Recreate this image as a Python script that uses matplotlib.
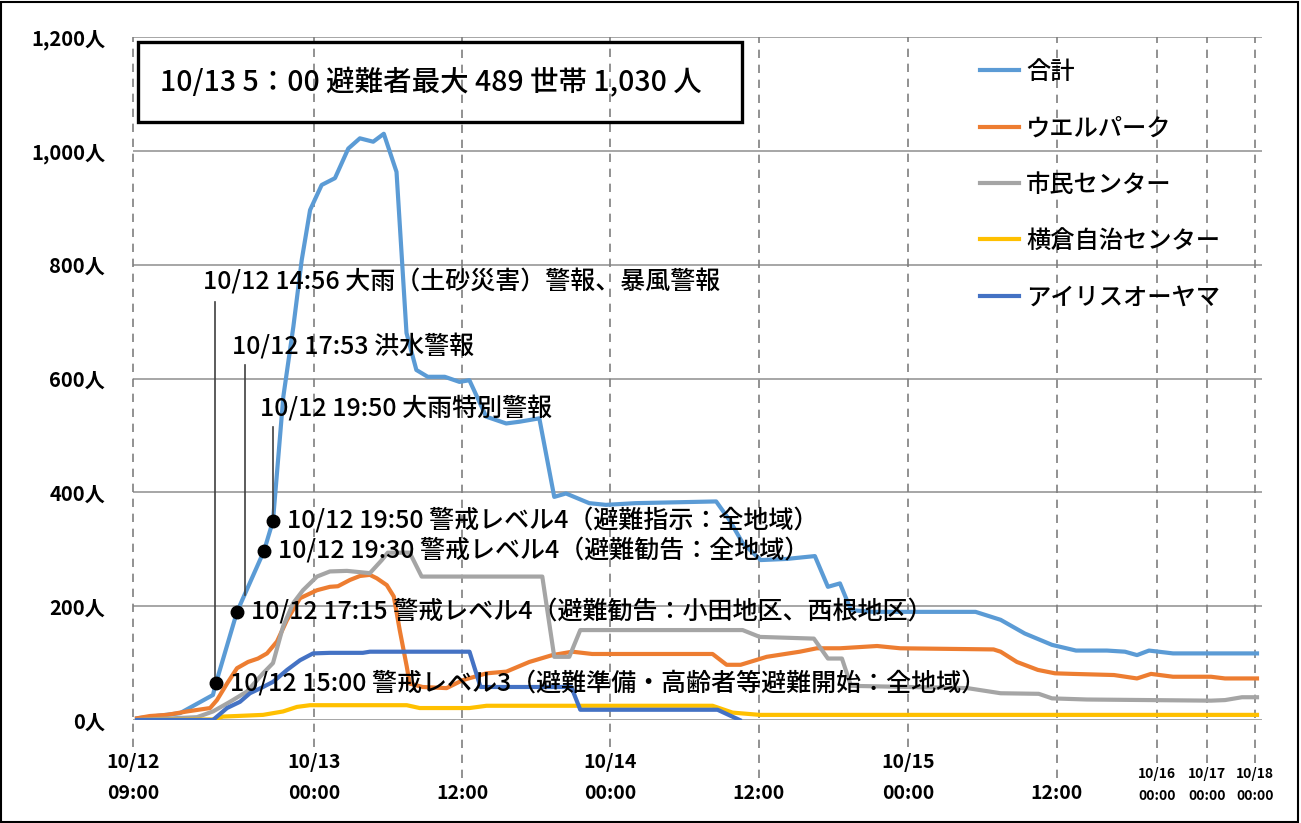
import numpy as np
import matplotlib
matplotlib.use('Agg')
import matplotlib.pyplot as plt
from matplotlib.patches import Rectangle
from matplotlib.transforms import ScaledTranslation

plt.rcParams['font.family'] = ['Noto Sans CJK JP', 'DejaVu Sans']

# x values are hours since 10/12 09:00
total_t = [0.3, 3.4, 5.78, 6.0, 8.25, 10.5, 10.83, 11.88, 12.9, 13.75, 14.6, 15.62, 16.7,
           17.78, 18.72, 19.8, 20.66, 21.69, 22.5, 23.3, 24.22, 25.6, 26.8, 27.6, 28.96,
           30.58, 31.65, 33.27, 34.48, 35.43, 37.31, 38.66, 41.09, 47.55, 48.63, 49.68,
           51.14, 53.24, 55.5, 56.55, 57.52, 58.41, 60.19, 68.44, 70.46, 72.4, 74.6, 77.28,
           81.0, 83.16, 84.6, 86.04, 94.68, 136.0]
total_v = [3, 12, 44, 65, 190, 297, 350, 568, 691, 808, 896, 940, 952,
           1004, 1022, 1016, 1030, 963, 680, 615, 603, 603, 594, 597, 533,
           521, 524, 530, 392, 398, 381, 378, 381, 384, 351, 311,
           281, 283, 288, 234, 240, 193, 190, 190, 176, 152, 132, 122,
           122, 120, 114, 122, 117, 117]

well_t = [0.29, 1.23, 2.46, 3.9, 5.57, 6.1, 7.18, 8.25, 9.17, 10.0, 10.61, 11.24, 12.26,
          13.58, 15.24, 16.29, 16.94, 17.91, 18.72, 19.53, 20.09, 20.9, 21.47, 21.95, 22.52,
          22.76, 23.81, 25.75, 27.05, 28.99, 30.6, 32.46, 34.32, 35.94, 37.55, 47.26, 48.39,
          49.52, 51.62, 54.29, 55.66, 57.52, 60.51, 62.37, 69.89, 70.46, 71.77, 73.46, 74.84,
          76.92, 81.84, 84.6, 86.28, 94.68, 113, 120, 136.0]
well_v = [3, 7, 9, 15, 21, 35, 64, 91, 102, 108, 117, 138, 176,
          214, 228, 234, 235, 246, 253, 255, 249, 237, 217, 158, 94,
          64, 58, 56, 70, 82, 85, 102, 114, 120, 116, 116, 97,
          97, 111, 120, 126, 126, 130, 126, 124, 120, 102, 88, 82,
          81, 79, 73, 81, 76, 76, 73, 73]

civic_t = [0.29, 4.63, 5.78, 7.5, 9.08, 10.42, 10.83, 11.85, 12.87, 13.88, 15.24, 16.29,
           17.67, 19.53, 20.5, 20.98, 22.76, 23.73, 33.51, 34.48, 35.7, 36.59, 49.68, 51.06,
           55.42, 56.55, 57.68, 58.41, 67.79, 70.46, 73.53, 74.6, 78.6, 113, 120, 128.5, 136.0]
civic_v = [0, 5, 15, 32, 50, 82, 100, 164, 205, 228, 252, 261,
           262, 258, 281, 294, 294, 252, 252, 111, 111, 158, 158, 146,
           143, 108, 108, 60, 56, 47, 46, 38, 36, 34, 35, 40, 40]

yoko_t = [0.29, 5.78, 6.75, 10.42, 11.85, 13.27, 14.59, 22.52, 23.57, 27.61, 28.99,
          47.26, 48.87, 51.06, 136.0]
yoko_v = [0, 1, 6, 9, 15, 23, 26, 26, 21, 21, 25, 25, 13, 9, 9]

iris_t = [0.29, 5.78, 7.18, 8.5, 9.33, 10.42, 10.83, 12.26, 13.58, 14.9, 16.29, 18.96,
          19.53, 27.61, 28.5, 35.86, 36.59, 47.66, 49.44]
iris_v = [0, 0, 21, 32, 47, 58, 67, 88, 105, 117, 118, 118,
          120, 120, 58, 58, 18, 18, 0]

series_names = ['合計', 'ウエルパーク', '市民センター', '横倉自治センター', 'アイリスオーヤマ']
series_colors = ['#5B9BD5', '#ED7D31', '#A5A5A5', '#FFC000', '#4472C4']

# alert level announcements (dots on the total curve)
alert_t = [6.0, 8.25, 10.5, 10.83]
alert_v = [65, 190, 297, 350]
alert_text = ['10/12 15:00 警戒レベル3（避難準備・高齢者等避難開始：全地域）',
              '10/12 17:15 警戒レベル4（避難勧告：小田地区、西根地区）',
              '10/12 19:30 警戒レベル4（避難勧告：全地域）',
              '10/12 19:50 警戒レベル4（避難指示：全地域）']

# weather warnings (leader lines)
warn_t = [5.93, 8.88, 10.83]
warn_v = [65, 220, 350]
warn_top = [735, 624, 515]
warn_label_y = [768, 654, 545]
warn_text = ['10/12 14:56 大雨（土砂災害）警報、暴風警報',
             '10/12 17:53 洪水警報',
             '10/12 19:50 大雨特別警報']

tick_t = [0, 15, 27, 39, 51, 63, 75, 87, 111, 135]
tick_lbl = ['10/12\n09:00', '10/13\n00:00', '\n12:00', '10/14\n00:00', '\n12:00',
            '10/15\n00:00', '\n12:00', '10/16\n00:00', '10/17\n00:00', '10/18\n00:00']

# category-like time axis of the original: piecewise mapping hours -> axis position
knot_h = [0, 6, 8.25, 10.5, 10.83, 15, 27, 39, 51, 63, 75, 87, 111, 135, 140]
knot_p = [0, 83, 104, 131, 140, 181, 329, 477, 626, 775, 924, 1024, 1074, 1122, 1132]

def fwd(x):
    return np.interp(x, knot_h, knot_p)

def inv(p):
    return np.interp(p, knot_p, knot_h)


fig = plt.figure(figsize=(13.01, 8.23), dpi=100)
ax = fig.add_axes([133/1301, 1-720/823, 1129/1301, 683/823])
ax.set_xscale('function', functions=(fwd, inv))
ax.set_xlim(0, 138.5)
ax.set_ylim(0, 1200)

for s in ax.spines.values():
    s.set_visible(False)

ax.set_yticks(range(0, 1201, 200))
ax.set_yticklabels([f'{v:,}人' for v in range(0, 1201, 200)], fontsize=14.5, fontweight='bold')
ax.yaxis.grid(True, color='#A6A6A6', lw=1.4)
ax.set_axisbelow(True)
ax.tick_params(axis='y', length=0, pad=20)

ax.set_xticks(tick_t)
ax.set_xticklabels(tick_lbl, fontsize=14, fontweight='bold')
ax.tick_params(axis='x', length=0, pad=24)
for i, lab in enumerate(ax.get_xticklabels()):
    lab.set_linespacing(1.75)
    if i >= 7:
        lab.set_fontsize(10)
        lab.set_transform(lab.get_transform() + ScaledTranslation(0, -10/72, fig.dpi_scale_trans))

ext = [0.04, 0.04, 0.085, 0.04, 0.085, 0.04, 0.085, 0.063, 0.063, 0.063]
for t, e in zip(tick_t, ext):
    ax.axvline(t, ymin=-e, ymax=1, color='#7F7F7F', lw=1.2, ls=(0, (5, 4)), clip_on=False, zorder=1)

all_t = [total_t, well_t, civic_t, yoko_t, iris_t]
all_v = [total_v, well_v, civic_v, yoko_v, iris_v]
for name, t, v, c in zip(series_names, all_t, all_v, series_colors):
    ax.plot(t, v, color=c, lw=3, label=name, zorder=3, solid_joinstyle='round')

for t, v, top, ty, txt in zip(warn_t, warn_v, warn_top, warn_label_y, warn_text):
    ax.plot([t, t], [v, top], color='#404040', lw=1.2, zorder=4)
    ax.annotate(txt, xy=(t, ty), xytext=(-9, 0), textcoords='offset points',
                ha='left', va='center', fontsize=18, fontweight='medium', zorder=5)

ax.plot(alert_t, alert_v, 'o', color='black', ms=9, zorder=6)
for t, v, txt in zip(alert_t, alert_v, alert_text):
    ax.annotate(txt, xy=(t, v), xytext=(10, 0), textcoords='offset points',
                ha='left', va='center', fontsize=18, fontweight='medium', zorder=5)

# peak box
ax.add_patch(Rectangle((0.0044, 0.8755), 0.535, 0.1171, transform=ax.transAxes,
                       fill=False, ec='black', lw=2.4, clip_on=False, zorder=6))
ax.text(0.0239, 0.934, '10/13 5：00 避難者最大 489 世帯 1,030 人', transform=ax.transAxes,
        ha='left', va='center', fontsize=20.5, fontweight='medium', zorder=6)

ax.legend(loc='upper left', bbox_to_anchor=(0.750, 0.968), frameon=False,
          prop={'size': 17.5, 'weight': 'medium'},
          handlelength=1.6, handletextpad=0.3, labelspacing=1.25, borderpad=0, borderaxespad=0)

fig.add_artist(Rectangle((0.001, 0.001), 0.997, 0.997, transform=fig.transFigure,
                         fill=False, ec='black', lw=1.5))

fig.savefig('out.png', dpi=100)
